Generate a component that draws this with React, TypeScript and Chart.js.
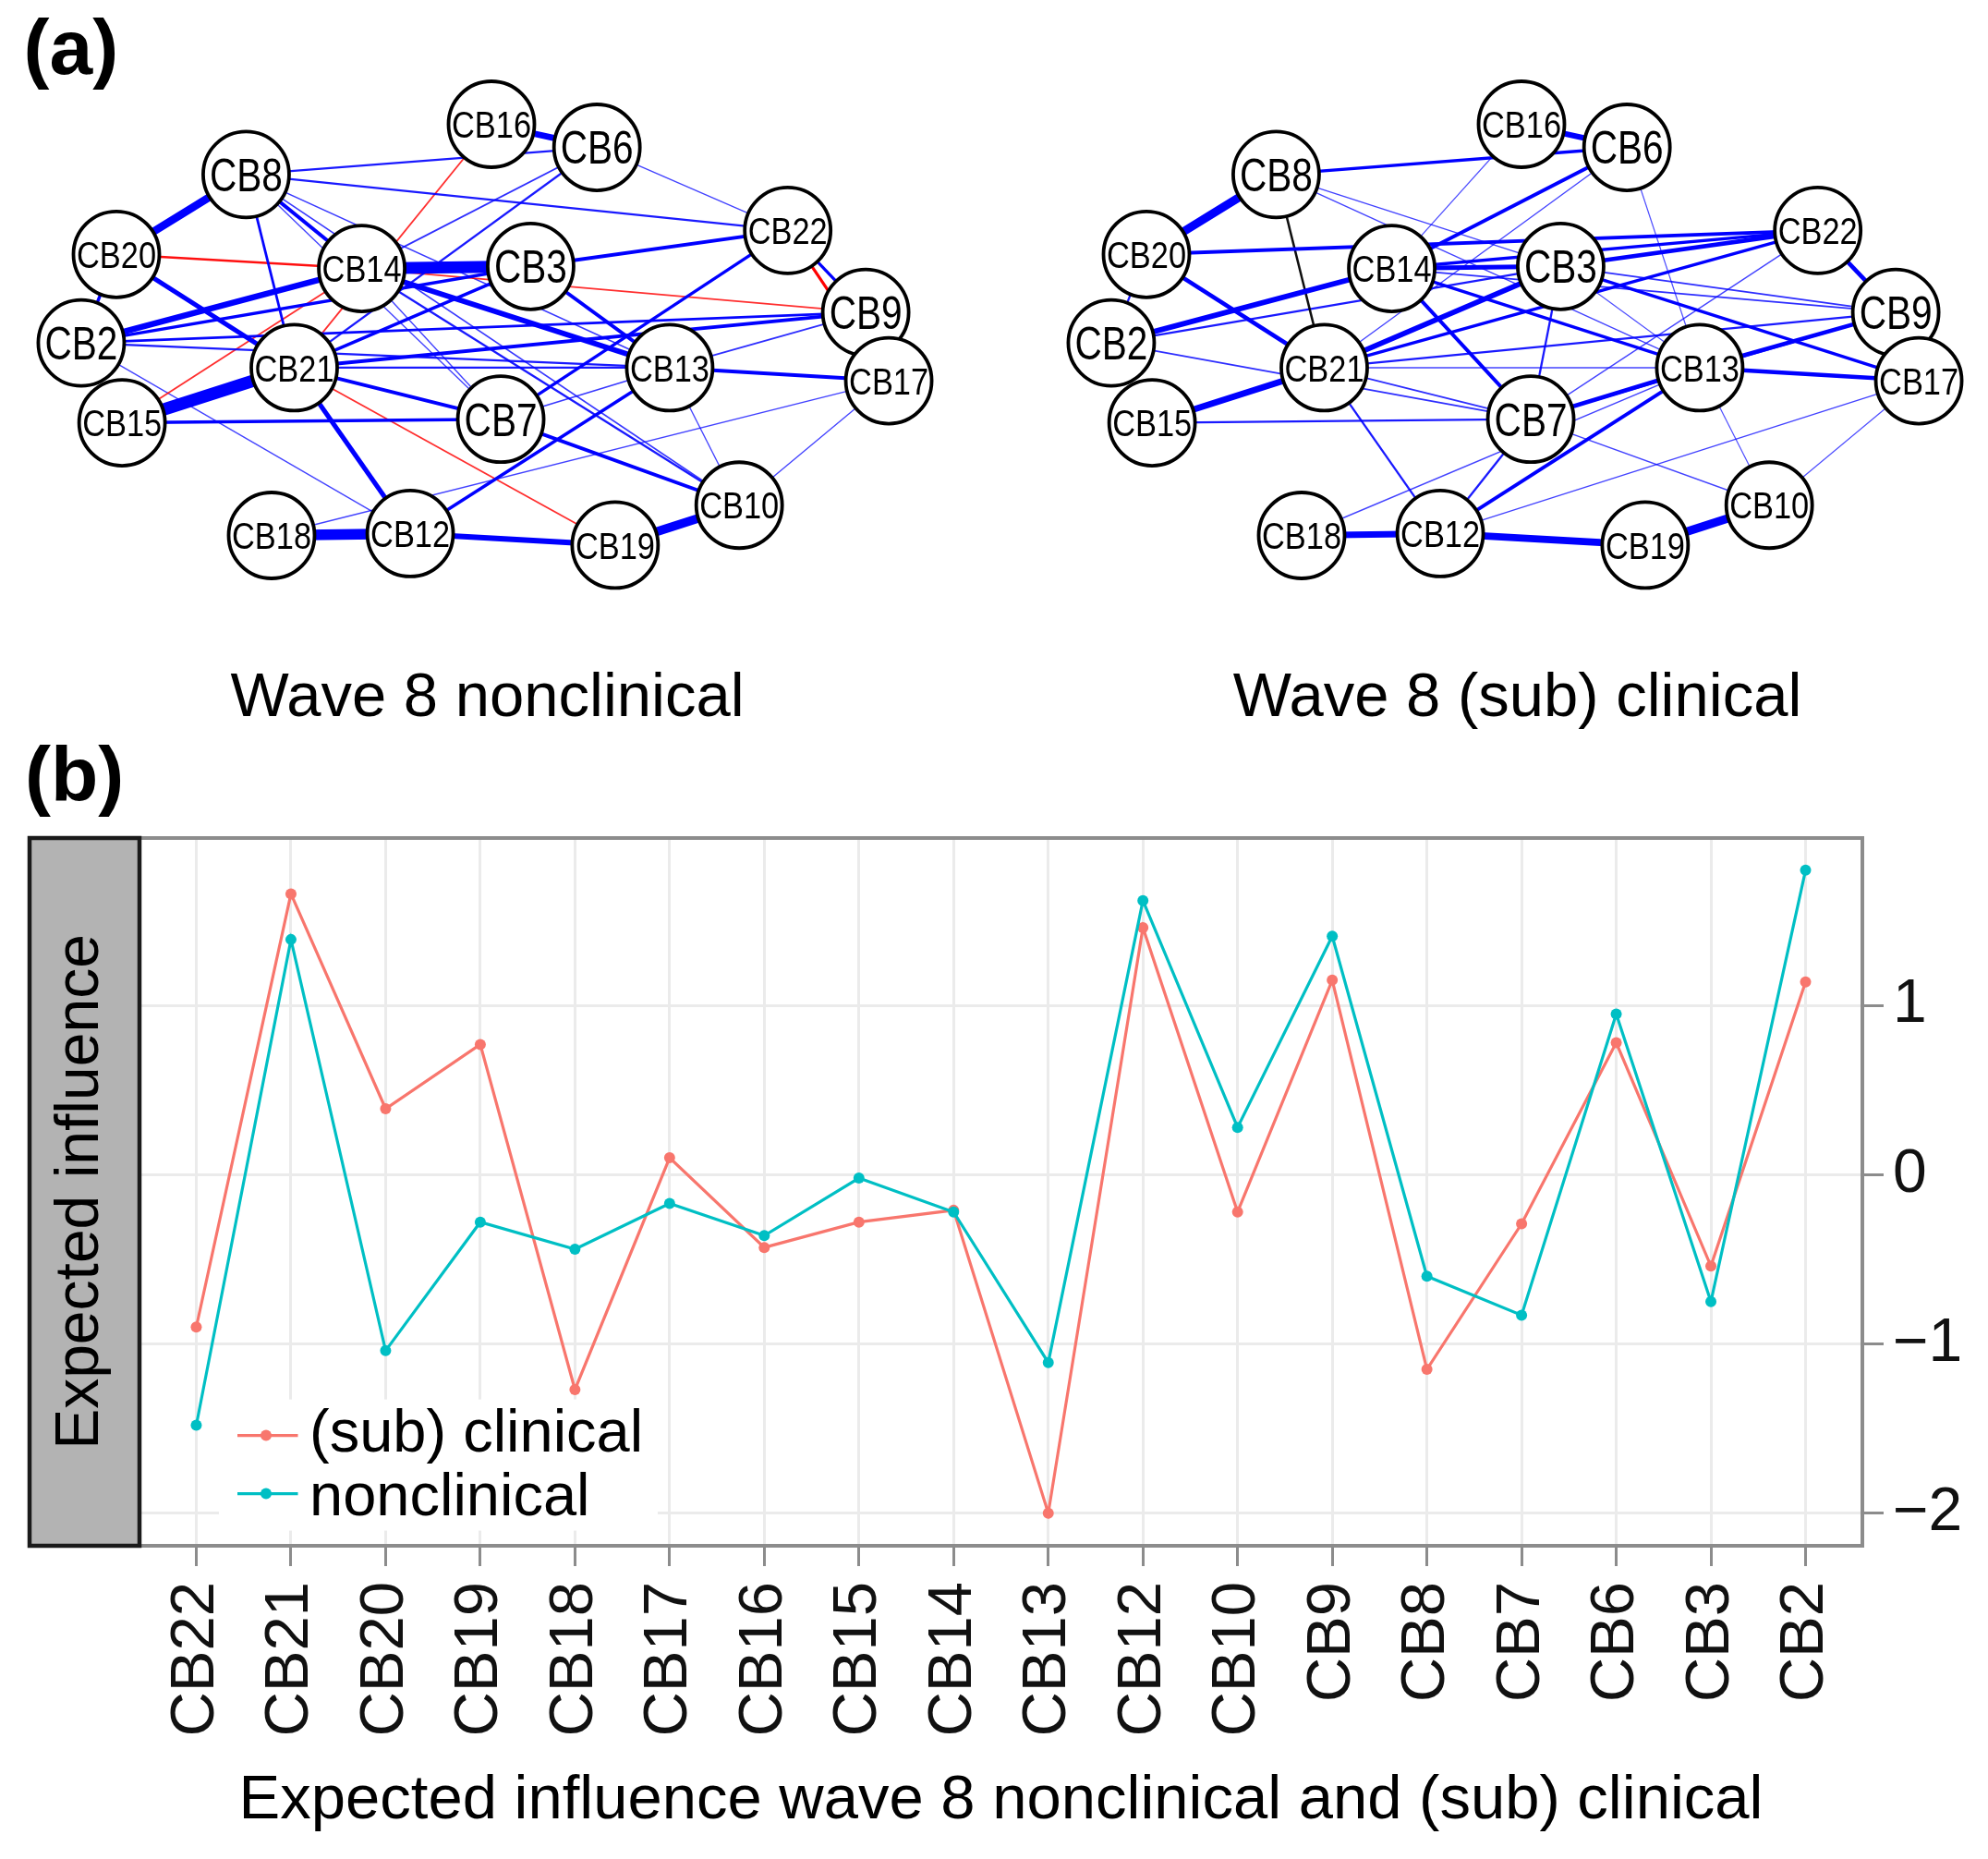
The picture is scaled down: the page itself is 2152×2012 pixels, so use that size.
import React, { useEffect, useRef } from 'react';
import { Chart, registerables } from 'chart.js';

Chart.register(...registerables);

const FONT = '"Liberation Sans", Arial, Helvetica, sans-serif';

// ---------- Panel (a): network layout (shared by both networks) ----------
const nodeNames = ['CB16', 'CB6', 'CB8', 'CB22', 'CB20', 'CB14', 'CB3', 'CB9', 'CB2', 'CB21', 'CB13', 'CB17', 'CB15', 'CB7', 'CB10', 'CB18', 'CB12', 'CB19'];
const nodeX = [0.016, 0.277, -0.591, 0.749, -0.912, -0.305, 0.113, 0.942, -0.999, -0.472, 0.457, 0.999, -0.898, 0.039, 0.629, -0.528, -0.185, 0.322];
const nodeY = [1.0, 0.89, 0.761, 0.495, 0.381, 0.314, 0.324, 0.105, -0.04, -0.158, -0.158, -0.22, -0.42, -0.403, -0.812, -0.956, -0.947, -1.002];

type Edge = [string, string, number];

const nonclinicalEdges: Edge[] = [
  ['CB16', 'CB6', 0.15], ['CB16', 'CB21', -0.04], ['CB14', 'CB15', -0.04], ['CB20', 'CB14', -0.055],
  ['CB14', 'CB9', -0.04], ['CB21', 'CB19', -0.04], ['CB22', 'CB17', -0.07], ['CB22', 'CB9', 0.07],
  ['CB8', 'CB20', 0.185], ['CB8', 'CB6', 0.05], ['CB8', 'CB22', 0.05], ['CB8', 'CB14', 0.085],
  ['CB8', 'CB13', 0.035], ['CB8', 'CB10', 0.035], ['CB8', 'CB7', 0.03], ['CB8', 'CB21', 0.06],
  ['CB20', 'CB21', 0.11], ['CB20', 'CB2', 0.075], ['CB2', 'CB14', 0.14], ['CB2', 'CB3', 0.075],
  ['CB2', 'CB9', 0.06], ['CB2', 'CB13', 0.05], ['CB2', 'CB12', 0.03], ['CB14', 'CB3', 0.28],
  ['CB14', 'CB6', 0.04], ['CB21', 'CB6', 0.05], ['CB14', 'CB13', 0.125], ['CB14', 'CB7', 0.03],
  ['CB14', 'CB10', 0.05], ['CB3', 'CB22', 0.085], ['CB21', 'CB9', 0.085], ['CB21', 'CB3', 0.075],
  ['CB21', 'CB13', 0.05], ['CB21', 'CB7', 0.085], ['CB21', 'CB12', 0.11], ['CB21', 'CB15', 0.29],
  ['CB15', 'CB7', 0.075], ['CB3', 'CB13', 0.085], ['CB13', 'CB17', 0.085], ['CB13', 'CB9', 0.04],
  ['CB13', 'CB10', 0.03], ['CB7', 'CB10', 0.085], ['CB7', 'CB13', 0.035], ['CB22', 'CB7', 0.075],
  ['CB13', 'CB12', 0.075], ['CB18', 'CB17', 0.03], ['CB17', 'CB10', 0.03], ['CB6', 'CB22', 0.03],
  ['CB18', 'CB12', 0.25], ['CB12', 'CB19', 0.13], ['CB19', 'CB10', 0.21],
];

const subclinicalEdges: Edge[] = [
  ['CB16', 'CB6', 0.13], ['CB8', 'CB20', 0.2], ['CB8', 'CB6', 0.075], ['CB8', 'CB3', 0.03],
  ['CB8', 'CB13', 0.03], ['CB16', 'CB14', 0.025], ['CB21', 'CB6', 0.03], ['CB20', 'CB22', 0.085],
  ['CB20', 'CB21', 0.1], ['CB20', 'CB2', 0.05], ['CB2', 'CB14', 0.125], ['CB2', 'CB3', 0.05],
  ['CB2', 'CB7', 0.04], ['CB15', 'CB21', 0.15], ['CB15', 'CB7', 0.05], ['CB21', 'CB12', 0.05],
  ['CB21', 'CB3', 0.125], ['CB21', 'CB22', 0.075], ['CB21', 'CB9', 0.05], ['CB21', 'CB13', 0.03],
  ['CB21', 'CB7', 0.04], ['CB14', 'CB3', 0.11], ['CB14', 'CB6', 0.085], ['CB14', 'CB22', 0.075],
  ['CB14', 'CB7', 0.085], ['CB14', 'CB13', 0.075], ['CB14', 'CB9', 0.04], ['CB3', 'CB17', 0.075],
  ['CB3', 'CB22', 0.1], ['CB3', 'CB7', 0.05], ['CB3', 'CB13', 0.025], ['CB3', 'CB9', 0.04],
  ['CB6', 'CB13', 0.025], ['CB22', 'CB9', 0.1], ['CB22', 'CB7', 0.03], ['CB9', 'CB13', 0.1],
  ['CB7', 'CB13', 0.1], ['CB7', 'CB9', 0.04], ['CB12', 'CB13', 0.085], ['CB13', 'CB17', 0.1],
  ['CB13', 'CB10', 0.025], ['CB17', 'CB10', 0.025], ['CB17', 'CB12', 0.03], ['CB7', 'CB10', 0.03],
  ['CB7', 'CB12', 0.05], ['CB12', 'CB19', 0.17], ['CB18', 'CB12', 0.15], ['CB19', 'CB10', 0.2],
  ['CB18', 'CB13', 0.03],
];

// edges drawn in black in the (sub) clinical network
const subclinicalOtherEdges: Edge[] = [['CB8', 'CB21', 0.055]];

// ---------- Panel (b): expected influence ----------
const categories = ['CB22', 'CB21', 'CB20', 'CB19', 'CB18', 'CB17', 'CB16', 'CB15', 'CB14', 'CB13', 'CB12', 'CB10', 'CB9', 'CB8', 'CB7', 'CB6', 'CB3', 'CB2'];
const subclinicalEI = [-0.9, 1.66, 0.39, 0.77, -1.27, 0.1, -0.43, -0.28, -0.21, -2.0, 1.46, -0.22, 1.15, -1.15, -0.29, 0.78, -0.54, 1.14];
const nonclinicalEI = [-1.48, 1.39, -1.04, -0.28, -0.44, -0.17, -0.36, -0.02, -0.22, -1.11, 1.62, 0.28, 1.41, -0.6, -0.83, 0.95, -0.75, 1.8];
const yTicks = [-2, -1, 0, 1];
const seriesNames = ['(sub) clinical', 'nonclinical'];
const seriesColors = ['#F8766D', '#00BFC4'];

// ---------- layout constants ----------
const NET_W = 1076;
const NET_H = 790;
const NET_OY = 362;
const NET_SX = 437.5;
const NET_SY = 227.5;

function edgeDatasets(list: Edge[], black: boolean) {
  return list.map(([a, b, w]) => {
    const i = nodeNames.indexOf(a);
    const j = nodeNames.indexOf(b);
    const mag = Math.abs(w);
    const alpha = Math.min(1, 0.5 + mag * 8);
    const color = black
      ? `rgba(0,0,0,${alpha})`
      : w >= 0
      ? `rgba(0,0,255,${alpha})`
      : `rgba(255,0,0,${alpha})`;
    return {
      data: [
        { x: nodeX[i], y: nodeY[i] },
        { x: nodeX[j], y: nodeY[j] },
      ],
      showLine: true,
      borderColor: color,
      borderWidth: Math.max(1.2, mag * 46),
      pointRadius: 0,
      clip: false,
      order: 100 - mag * 100,
    };
  });
}

function NetworkChart(props: { edges: Edge[]; other: Edge[]; title: string; tag?: string; left: number; originX: number }) {
  const ref = useRef<HTMLCanvasElement>(null);
  useEffect(() => {
    const canvas = ref.current;
    if (!canvas) return;
    const { edges, other, title, tag, originX } = props;
    const nodeDataset = {
      data: nodeNames.map((_, i) => ({ x: nodeX[i], y: nodeY[i] })),
      showLine: false,
      pointRadius: 46.5,
      pointBackgroundColor: '#ffffff',
      pointBorderColor: '#000000',
      pointBorderWidth: 3.8,
      clip: false,
      order: 0,
    };
    const labelPlugin = {
      id: 'netLabels',
      afterDatasetsDraw(chart: any) {
        const ctx = chart.ctx;
        const xs = chart.scales.x;
        const ys = chart.scales.y;
        nodeNames.forEach((n, i) => {
          const px = xs.getPixelForValue(nodeX[i]);
          const py = ys.getPixelForValue(nodeY[i]);
          const short = n.length <= 3;
          const fs = short ? 50 : 41;
          const target = short ? 79 : 86;
          ctx.save();
          ctx.font = `${fs}px ${FONT}`;
          const w = ctx.measureText(n).width;
          ctx.translate(px, py);
          ctx.scale(target / w, 1);
          ctx.textAlign = 'center';
          ctx.textBaseline = 'alphabetic';
          ctx.fillStyle = '#000';
          ctx.fillText(n, 0, fs * 0.358);
          ctx.restore();
        });
      },
      afterDraw(chart: any) {
        const ctx = chart.ctx;
        ctx.save();
        ctx.fillStyle = '#000';
        ctx.textBaseline = 'alphabetic';
        ctx.font = `67px ${FONT}`;
        ctx.textAlign = 'center';
        ctx.fillText(title, originX + 2.5, 775);
        if (tag) {
          ctx.font = `bold 84px ${FONT}`;
          ctx.textAlign = 'left';
          ctx.fillText(tag, 25.5, 80);
        }
        ctx.restore();
      },
    };
    const chart = new Chart(canvas, {
      type: 'scatter',
      data: { datasets: [...edgeDatasets(edges, false), ...edgeDatasets(other, true), nodeDataset] as any },
      options: {
        animation: false,
        responsive: false,
        events: [],
        layout: { padding: 0, autoPadding: false },
        plugins: { legend: { display: false }, tooltip: { enabled: false } },
        scales: {
          x: { type: 'linear', display: false, min: -originX / NET_SX, max: (NET_W - originX) / NET_SX },
          y: { type: 'linear', display: false, min: (NET_OY - NET_H) / NET_SY, max: NET_OY / NET_SY },
        },
      } as any,
      plugins: [labelPlugin],
    });
    return () => chart.destroy();
  }, []);
  return (
    <canvas
      ref={ref}
      width={NET_W}
      height={NET_H}
      style={{ position: 'absolute', left: props.left, top: 0, width: NET_W, height: NET_H }}
    />
  );
}

function InfluenceChart() {
  const ref = useRef<HTMLCanvasElement>(null);
  useEffect(() => {
    const canvas = ref.current;
    if (!canvas) return;
    const panelPlugin = {
      id: 'panelDeco',
      afterDatasetsDraw(chart: any) {
        const ctx = chart.ctx;
        const { left, bottom } = chart.chartArea;
        ctx.save();
        // legend box
        ctx.fillStyle = '#ffffff';
        ctx.fillRect(left + 86, bottom - 158.4, 475, 142);
        const rows = [
          { keyY: bottom - 119.4, textY: bottom - 101.7 },
          { keyY: bottom - 56.4, textY: bottom - 33.4 },
        ];
        chart.data.datasets.forEach((ds: any, k: number) => {
          const r = rows[k];
          ctx.strokeStyle = ds.borderColor;
          ctx.lineWidth = 3.2;
          ctx.beginPath();
          ctx.moveTo(left + 106, r.keyY);
          ctx.lineTo(left + 171.5, r.keyY);
          ctx.stroke();
          ctx.fillStyle = ds.borderColor;
          ctx.beginPath();
          ctx.arc(left + 137, r.keyY, 6, 0, Math.PI * 2);
          ctx.fill();
          ctx.fillStyle = '#000';
          ctx.font = `65px ${FONT}`;
          ctx.textAlign = 'left';
          ctx.textBaseline = 'alphabetic';
          ctx.fillText(ds.label, left + 184, r.textY);
        });
        ctx.restore();
      },
      afterDraw(chart: any) {
        const ctx = chart.ctx;
        const { left, top, right, bottom } = chart.chartArea;
        ctx.save();
        // panel border
        ctx.strokeStyle = '#8c8c8c';
        ctx.lineWidth = 4;
        ctx.strokeRect(left, top, right - left, bottom - top);
        // strip
        const sx = left - 119;
        ctx.fillStyle = '#B3B3B3';
        ctx.fillRect(sx, top, 119, bottom - top);
        ctx.strokeStyle = '#1a1a1a';
        ctx.lineWidth = 4.5;
        ctx.strokeRect(sx, top, 119, bottom - top);
        ctx.translate(sx + 73.5, (top + bottom) / 2);
        ctx.rotate(-Math.PI / 2);
        ctx.fillStyle = '#000';
        ctx.font = `66px ${FONT}`;
        ctx.textAlign = 'center';
        ctx.textBaseline = 'alphabetic';
        ctx.fillText('Expected influence', 0, 0);
        ctx.restore();
        // panel tag
        ctx.save();
        ctx.fillStyle = '#000';
        ctx.font = `bold 84px ${FONT}`;
        ctx.textAlign = 'left';
        ctx.textBaseline = 'alphabetic';
        ctx.fillText('(b)', 27, 77.4);
        ctx.restore();
      },
    };
    const gridCommon = {
      color: '#EBEBEB',
      lineWidth: 3,
      drawTicks: true,
      tickColor: '#8c8c8c',
      tickWidth: 3,
    };
    const chart = new Chart(canvas, {
      type: 'line',
      data: {
        datasets: [
          {
            label: seriesNames[0],
            data: subclinicalEI.map((v, i) => ({ x: i, y: v })),
            borderColor: seriesColors[0],
            backgroundColor: seriesColors[0],
            pointBackgroundColor: seriesColors[0],
            pointBorderWidth: 0,
            pointRadius: 6,
            borderWidth: 3.2,
            tension: 0,
            order: 2,
          },
          {
            label: seriesNames[1],
            data: nonclinicalEI.map((v, i) => ({ x: i, y: v })),
            borderColor: seriesColors[1],
            backgroundColor: seriesColors[1],
            pointBackgroundColor: seriesColors[1],
            pointBorderWidth: 0,
            pointRadius: 6,
            borderWidth: 3.2,
            tension: 0,
            order: 1,
          },
        ],
      },
      options: {
        animation: false,
        responsive: false,
        events: [],
        layout: { padding: { left: 151, top: 117, right: 0, bottom: 0 } },
        plugins: { legend: { display: false }, tooltip: { enabled: false } },
        scales: {
          x: {
            type: 'linear',
            position: 'bottom',
            min: -0.6,
            max: categories.length - 1 + 0.6,
            afterBuildTicks: (s: any) => {
              s.ticks = categories.map((_, i) => ({ value: i }));
            },
            afterFit: (s: any) => {
              s.height = 339;
            },
            grid: { ...gridCommon, tickLength: 22 },
            border: { display: false },
            ticks: {
              autoSkip: false,
              maxRotation: 90,
              minRotation: 90,
              padding: 17,
              color: '#111',
              font: { size: 67, family: FONT },
              callback: (v: any) => categories[Math.round(Number(v))],
            },
            title: {
              display: true,
              text: 'Expected influence wave 8 nonclinical and (sub) clinical',
              color: '#000',
              font: { size: 67, family: FONT, lineHeight: 1.2 },
              padding: { top: 0, bottom: 22 },
            },
          },
          y: {
            type: 'linear',
            position: 'right',
            min: -2.193,
            max: 1.99,
            afterBuildTicks: (s: any) => {
              s.ticks = yTicks.map((v) => ({ value: v }));
            },
            afterFit: (s: any) => {
              s.width = 136;
            },
            grid: { ...gridCommon, tickLength: 23 },
            border: { display: false },
            ticks: {
              padding: 10,
              crossAlign: 'near',
              color: '#111',
              font: { size: 66, family: FONT },
              callback: (v: any) => (Number(v) < 0 ? '\u2212' + Math.abs(Number(v)) : String(v)),
            },
          },
        },
      } as any,
      plugins: [panelPlugin],
    });
    return () => chart.destroy();
  }, []);
  return (
    <canvas
      ref={ref}
      width={2152}
      height={1222}
      style={{ position: 'absolute', left: 0, top: 790, width: 2152, height: 1222 }}
    />
  );
}

export default function App() {
  return (
    <div style={{ position: 'absolute', left: 0, top: 0, width: 2152, height: 2012, background: '#ffffff', overflow: 'hidden' }}>
      <NetworkChart edges={nonclinicalEdges} other={[]} title="Wave 8 nonclinical" tag="(a)" left={0} originX={525} />
      <NetworkChart edges={subclinicalEdges} other={subclinicalOtherEdges} title="Wave 8 (sub) clinical" left={1076} originX={564} />
      <InfluenceChart />
    </div>
  );
}
